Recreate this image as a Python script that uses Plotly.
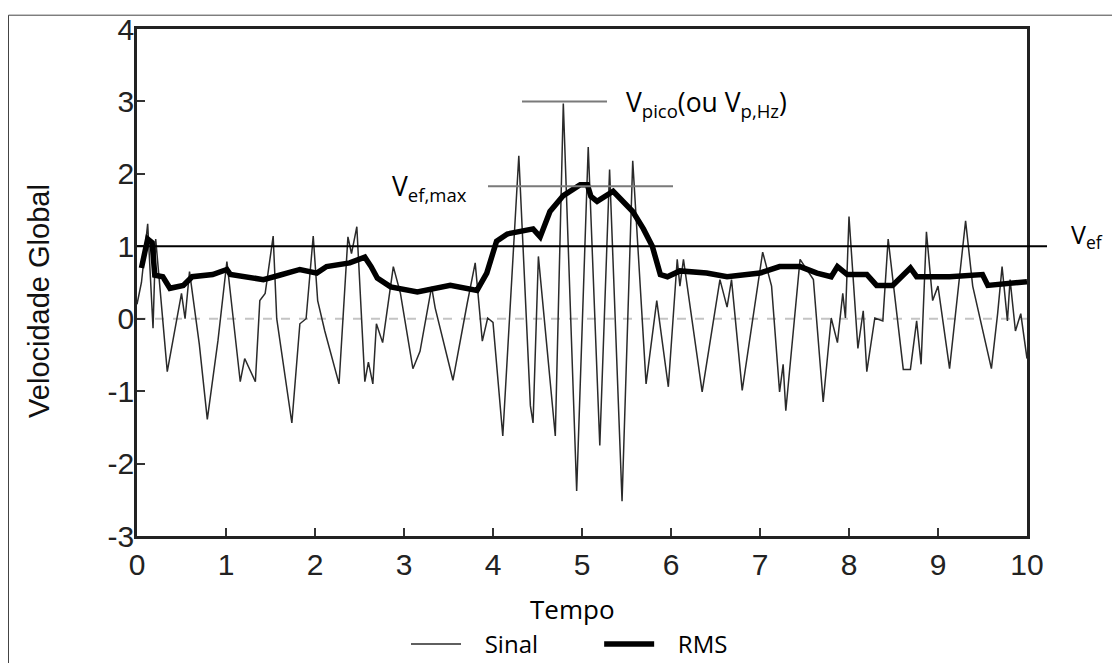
import plotly.graph_objects as go

# ---- data ----
signal_t = [0.0, 0.05, 0.12, 0.18, 0.21, 0.34, 0.5, 0.54, 0.59, 0.7, 0.79, 0.91, 1.01, 1.16, 1.21, 1.33,
            1.38, 1.44, 1.53, 1.57, 1.74, 1.83, 1.9, 1.98, 2.03, 2.11, 2.27, 2.37, 2.41, 2.47, 2.56, 2.6,
            2.65, 2.69, 2.76, 2.88, 2.96, 3.1, 3.18, 3.31, 3.35, 3.55, 3.71, 3.8, 3.88, 3.94, 4.0, 4.11,
            4.29, 4.42, 4.45, 4.51, 4.7, 4.79, 4.94, 5.07, 5.2, 5.31, 5.45, 5.57, 5.72, 5.84, 5.97, 6.07,
            6.1, 6.14, 6.35, 6.55, 6.63, 6.68, 6.8, 7.03, 7.13, 7.22, 7.26, 7.29, 7.45, 7.6, 7.71, 7.8,
            7.87, 7.93, 7.96, 8.0, 8.1, 8.16, 8.2, 8.29, 8.38, 8.44, 8.52, 8.61, 8.69, 8.76, 8.81, 8.87,
            8.94, 9.0, 9.13, 9.31, 9.39, 9.47, 9.6, 9.67, 9.72, 9.78, 9.81, 9.87, 9.93, 10.0]
signal_v = [0.2, 0.5, 1.31, -0.13, 1.1, -0.73, 0.35, 0.0, 0.65, -0.35, -1.39, -0.3, 0.79, -0.87, -0.55, -0.87,
            0.25, 0.35, 1.14, 0.0, -1.44, -0.07, 0.0, 1.14, 0.25, -0.17, -0.9, 1.13, 0.9, 1.27, -0.87, -0.6,
            -0.9, -0.07, -0.33, 0.72, 0.35, -0.69, -0.45, 0.44, 0.15, -0.85, 0.21, 0.77, -0.31, 0.01, -0.05, -1.62,
            2.25, -1.2, -1.44, 0.86, -1.62, 2.97, -2.38, 2.37, -1.75, 2.06, -2.52, 2.18, -0.9, 0.25, -0.94, 0.82,
            0.45, 0.82, -1.01, 0.54, 0.16, 0.54, -0.99, 0.92, 0.45, -1.01, -0.63, -1.27, 0.82, 0.54, -1.15, 0.01,
            -0.33, 0.35, 0.01, 1.41, -0.41, 0.11, -0.73, 0.01, -0.03, 1.1, 0.25, -0.7, -0.7, -0.03, -0.63, 1.2,
            0.25, 0.45, -0.69, 1.35, 0.45, 0.01, -0.69, 0.07, 0.72, -0.03, 0.54, -0.17, 0.07, -0.55]

rms_t = [0.05, 0.12, 0.17, 0.2, 0.29, 0.37, 0.52, 0.62, 0.85, 1.01, 1.05, 1.42, 1.6, 1.83, 2.02, 2.13,
         2.39, 2.5, 2.56, 2.63, 2.7, 2.85, 3.15, 3.52, 3.82, 3.93, 4.04, 4.16, 4.45, 4.53, 4.64, 4.79,
         4.98, 5.06, 5.1, 5.17, 5.35, 5.57, 5.69, 5.79, 5.88, 5.96, 6.1, 6.4, 6.63, 7.0, 7.22, 7.45,
         7.64, 7.8, 7.87, 7.98, 8.2, 8.31, 8.49, 8.69, 8.76, 9.13, 9.5, 9.56, 10.0]
rms_v = [0.7, 1.1, 1.05, 0.6, 0.58, 0.42, 0.46, 0.58, 0.61, 0.68, 0.61, 0.54, 0.6, 0.68, 0.63, 0.72,
         0.77, 0.82, 0.85, 0.72, 0.56, 0.44, 0.37, 0.46, 0.39, 0.63, 1.07, 1.17, 1.24, 1.13, 1.48, 1.7,
         1.85, 1.85, 1.69, 1.62, 1.76, 1.48, 1.24, 1.0, 0.61, 0.58, 0.66, 0.63, 0.58, 0.63, 0.72, 0.72,
         0.63, 0.58, 0.72, 0.61, 0.61, 0.46, 0.46, 0.7, 0.58, 0.58, 0.61, 0.46, 0.51]

x_ticks = [0, 1, 2, 3, 4, 5, 6, 7, 8, 9, 10]
y_ticks = [-3, -2, -1, 0, 1, 2, 3, 4]

v_ef = 1.0
v_pico = 3.0
v_ef_max = 1.83

# ---- layout geometry ----
# Target positions are in reference-picture px. Measured rendering maps figure y
# to picture y roughly as  pic = KY * fig + OY, so vertical geometry is pre-compensated.
KY, OY = 0.955, 6.0


def fy(target):
    return (target - OY) / KY


W = 1112
H = round(fy(663))
PL, PR, PT, PB = 137, 1027, 22, 518          # plot box in picture px
ML, MR = PL, W - PR
MT, MB = fy(PT), H - fy(PB)
PW, PH = PR - PL, PB - PT


def sx(px):  # picture px -> paper x
    return (px - PL) / PW


def sy(py):  # picture px -> paper y
    return (PB - py) / PH


NB = "\u00a0"
fig = go.Figure()
fig.add_trace(go.Scatter(x=signal_t, y=signal_v, mode="lines", name=NB * 3 + "Sinal" + NB * 9,
                         line=dict(color="#2a2a2a", width=1.5)))
fig.add_trace(go.Scatter(x=rms_t, y=rms_v, mode="lines", name=NB * 3 + "RMS",
                         line=dict(color="black", width=5.5)))

ann_font = dict(family="Open Sans", size=26.5, color="black")

shapes = [
    dict(type="line", xref="x", yref="y", x0=0, x1=10, y0=0, y1=0,
         line=dict(color="#c4c4c4", width=2, dash="dash"), layer="below"),
    dict(type="line", xref="paper", yref="paper", x0=0, x1=sx(1047),
         y0=(v_ef + 3) / 7, y1=(v_ef + 3) / 7, line=dict(color="black", width=2)),
    dict(type="line", xref="x", yref="y", x0=(522 - PL) / 89, x1=(607 - PL) / 89, y0=v_pico, y1=v_pico,
         line=dict(color="#7a7a7a", width=2)),
    dict(type="line", xref="x", yref="y", x0=(488 - PL) / 89, x1=(673 - PL) / 89, y0=v_ef_max, y1=v_ef_max,
         line=dict(color="#7a7a7a", width=2)),
    # outer frame (left and top edges)
    dict(type="line", xref="paper", yref="paper", x0=sx(8.5), x1=sx(8.5), y0=sy(670), y1=sy(8.5),
         line=dict(color="#444", width=1)),
    dict(type="line", xref="paper", yref="paper", x0=sx(8.5), x1=sx(1112), y0=sy(8.5), y1=sy(8.5),
         line=dict(color="#444", width=1)),
]

annotations = [
    dict(xref="paper", yref="paper", x=sx(1069), y=sy(224),
         text="V<sub>ef</sub>", showarrow=False, xanchor="left", yanchor="middle",
         font=dict(family="Open Sans", size=25, color="black")),
    dict(xref="paper", yref="paper", x=sx(624), y=sy(95),
         text="V<sub>pico</sub>(ou V<sub>p,Hz</sub>)", showarrow=False, xanchor="left",
         yanchor="middle", font=ann_font),
    dict(xref="paper", yref="paper", x=sx(469), y=sy(177),
         text="V<sub>ef,max</sub>", showarrow=False, xanchor="right", yanchor="middle", font=ann_font),
    dict(xref="paper", yref="paper", x=sx(39), y=sy(288), text="Velocidade Global", textangle=-90,
         showarrow=False, xanchor="center", yanchor="middle",
         font=dict(family="Liberation Sans", size=29, color="#111")),
    dict(xref="paper", yref="paper", x=sx(572), y=sy(589), text="Tempo",
         showarrow=False, xanchor="center", yanchor="middle",
         font=dict(family="Open Sans", size=26, color="black")),
]

fig.update_layout(
    width=W, height=H,
    margin=dict(l=ML, r=MR, t=MT, b=MB),
    paper_bgcolor="white", plot_bgcolor="white",
    showlegend=True,
    legend=dict(orientation="h", x=sx(406), xanchor="left", y=sy(624), yanchor="middle",
                font=dict(family="Open Sans", size=24, color="black"), itemwidth=50,
                traceorder="normal", bgcolor="rgba(0,0,0,0)"),
    shapes=shapes, annotations=annotations,
    xaxis=dict(range=[0, 10], tickvals=x_ticks, ticktext=[str(t) for t in x_ticks],
               ticks="inside", ticklen=8, tickwidth=1.5, tickcolor="#333",
               showline=True, linecolor="#222", linewidth=2.5, mirror=True,
               showgrid=False, zeroline=False, ticklabelstandoff=0,
               tickfont=dict(family="Liberation Sans", size=30, color="#222")),
    yaxis=dict(range=[-3, 4], tickvals=y_ticks, ticktext=[str(t) for t in y_ticks],
               ticks="inside", ticklen=8, tickwidth=1.5, tickcolor="#333",
               showline=True, linecolor="#222", linewidth=2.5, mirror=True,
               showgrid=False, zeroline=False, ticklabelstandoff=-6, ticklabeloverflow="allow",
               tickfont=dict(family="Liberation Sans", size=30, color="#222")),
)

fig.write_html(
    "out.html",
    config={"displayModeBar": False},
    post_script=("document.documentElement.style.margin='0';document.body.style.margin='0';"
                 "document.documentElement.style.overflow='hidden';document.body.style.overflow='hidden';"),
)
